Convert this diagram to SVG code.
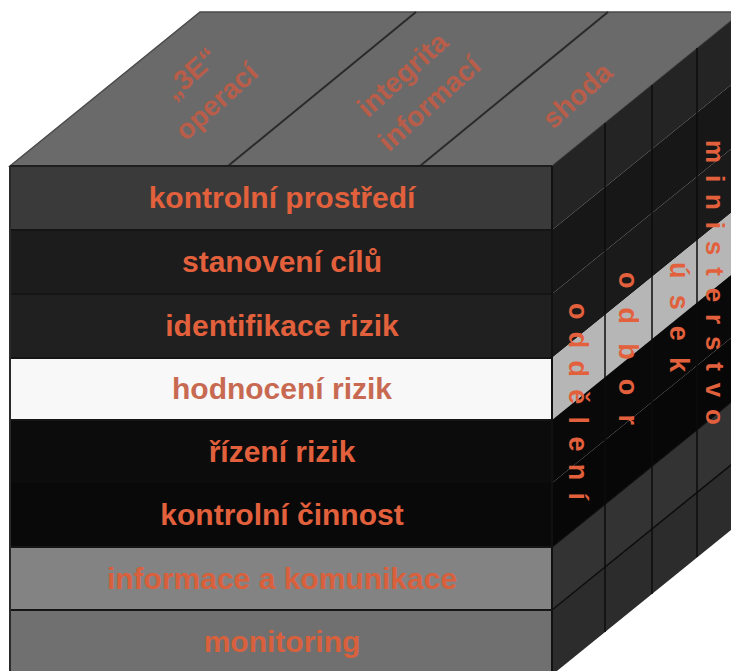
<svg xmlns="http://www.w3.org/2000/svg" width="731" height="671" viewBox="0 0 731 671">
<style>
.ft{font-family:"Liberation Sans",Arial,sans-serif;font-weight:bold;font-size:30px;fill:#e2603c;text-anchor:middle}
.tt{font-family:"Liberation Sans",Arial,sans-serif;font-weight:bold;font-size:28px;fill:#cf5a40;fill-opacity:0.8;text-anchor:middle}
.vt{font-family:"Liberation Sans",Arial,sans-serif;font-weight:bold;font-size:27px;fill:#e2603c}
.rl{stroke:#151515;stroke-width:2;fill:none}
.cl{stroke:#0c0c0c;stroke-width:1.5;fill:none}
</style>
<rect width="731" height="671" fill="#ffffff"/>
<g id="top-face">
<polygon points="10,166 200,12 742,12 552,166" fill="#6a6a6a" stroke="#4a4a4a" stroke-width="1.5"/>
<line x1="228" y1="166" x2="416" y2="12" stroke="#2a2a2a" stroke-width="2"/>
<line x1="420" y1="166" x2="608" y2="12" stroke="#2a2a2a" stroke-width="2"/>
<text class="tt" transform="translate(190,73) rotate(-42)" dy="10">„3E“</text>
<text class="tt" transform="translate(216,101) rotate(-42)" dy="10">operací</text>
<text class="tt" transform="translate(402,74) rotate(-42)" dy="10">integrita</text>
<text class="tt" transform="translate(429,103) rotate(-42)" dy="10">informací</text>
<text class="tt" transform="translate(577,95) rotate(-42)" dy="10">shoda</text>
</g>
<g id="right-face">
<polygon points="552,166 742,12 742,76 552,230" fill="#242424"/>
<polygon points="552,230 742,76 742,140 552,294" fill="#171717"/>
<polygon points="552,294 742,140 742,204 552,358" fill="#1a1a1a"/>
<polygon points="552,358 742,204 742,266 552,420" fill="#b6b6b6"/>
<polygon points="552,420 742,266 742,329 552,483" fill="#090909"/>
<polygon points="552,483 742,329 742,393 552,547" fill="#070707"/>
<polygon points="552,547 742,393 742,456 552,610" fill="#333333"/>
<polygon points="552,610 742,456 742,521 552,675" fill="#2c2c2c"/>
<line class="cl" x1="552" y1="610" x2="742" y2="456"/>
<line class="cl" x1="552" y1="547" x2="742" y2="393"/>
<line class="cl" x1="605" y1="123" x2="605" y2="632"/>
<line class="cl" x1="652" y1="85" x2="652" y2="594"/>
<line class="cl" x1="697" y1="48" x2="697" y2="557"/>
<text class="vt" transform="translate(569,303) rotate(90)" textLength="197" lengthAdjust="spacing">oddělení</text>
<text class="vt" transform="translate(619,272) rotate(90)" textLength="153" lengthAdjust="spacing">odbor</text>
<text class="vt" transform="translate(670,262) rotate(90)" textLength="110" lengthAdjust="spacing">úsek</text>
<text class="vt" transform="translate(706,140) rotate(90)" textLength="285" lengthAdjust="spacing" style="font-size:26px">ministerstvo</text>
</g>
<g id="front-face">
<g id="row-kontrolni-prostredi"><rect x="10" y="166" width="542" height="64" fill="#3a3a3a"/><text class="ft" x="282" y="208">kontrolní prostředí</text></g>
<g id="row-stanoveni-cilu"><rect x="10" y="230" width="542" height="64" fill="#1c1c1c"/><text class="ft" x="282" y="272">stanovení cílů</text></g>
<g id="row-identifikace-rizik"><rect x="10" y="294" width="542" height="64" fill="#202020"/><text class="ft" x="282" y="336">identifikace rizik</text></g>
<g id="row-hodnoceni-rizik"><rect x="10" y="358" width="542" height="62" fill="#f8f8f8"/><text class="ft" x="282" y="399" style="fill:#c86a52">hodnocení rizik</text></g>
<g id="row-rizeni-rizik"><rect x="10" y="420" width="542" height="63" fill="#0c0c0c"/><text class="ft" x="282" y="462">řízení rizik</text></g>
<g id="row-kontrolni-cinnost"><rect x="10" y="483" width="542" height="64" fill="#090909"/><text class="ft" x="282" y="525">kontrolní činnost</text></g>
<g id="row-informace-a-komunikace"><rect x="10" y="547" width="542" height="63" fill="#838383"/><text class="ft" x="282" y="589" style="fill:#d9603c">informace a komunikace</text></g>
<g id="row-monitoring"><rect x="10" y="610" width="542" height="65" fill="#707070"/><text class="ft" x="282" y="652" style="fill:#d9603c">monitoring</text></g>
<line class="rl" x1="10" y1="230" x2="552" y2="230"/>
<line class="rl" x1="10" y1="294" x2="552" y2="294"/>
<line class="rl" x1="10" y1="358" x2="552" y2="358"/>
<line class="rl" x1="10" y1="420" x2="552" y2="420"/>
<line class="rl" x1="10" y1="547" x2="552" y2="547"/>
<line class="rl" x1="10" y1="610" x2="552" y2="610"/>
<line x1="10" y1="166" x2="552" y2="166" stroke="#1e1e1e" stroke-width="2"/>
<line x1="10" y1="166" x2="10" y2="671" stroke="#2a2a2a" stroke-width="2"/>
<line x1="552" y1="166" x2="552" y2="671" stroke="#111111" stroke-width="2"/>
</g>
</svg>
